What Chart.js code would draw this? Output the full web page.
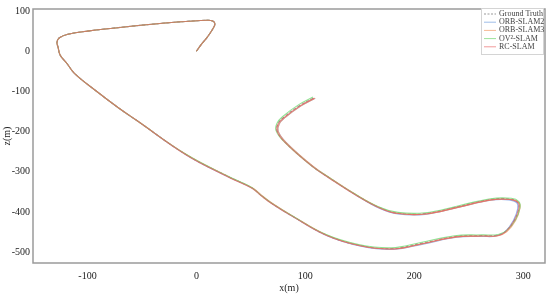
<!DOCTYPE html>
<html>
<head>
<meta charset="utf-8">
<script src="https://cdn.jsdelivr.net/npm/chart.js@4.4.1/dist/chart.umd.min.js"></script>
<style>
  html, body { margin: 0; padding: 0; background: #fff; }
</style>
</head>
<body>
<canvas id="trajChart" width="550" height="294"></canvas>
<script>
// shared first stretch of the trajectory (all methods overlap here)
const startPath = [[0,0],[4,15],[10,35],[15,55],[17,68],[15,75],[10,77],[-20,72],[-60,62],[-100,50],
    [-118,42],[-126,33],[-128,22],[-127,10],[-125,-10],[-119,-30],[-112,-55],[-92,-99],[-72,-140],[-55,-172]];

const groundTruth = [[-9,-258],[30,-313],[51,-340],[60,-360],[70,-380],[88,-410],[119,-457],[150,-483],[180,-491],[207,-478],
    [238,-461],[262,-459],[276,-458],[284,-448],[292,-420],[296,-390],[295,-376],[288,-368],[270,-369],[240,-387],
    [210,-404],[185,-403],[168,-389],[145,-355],[122,-315],[106,-285],[81,-225],[74,-198],[75,-180],[80,-165],[95,-135],[108,-116]];
const orbSlam2 = [[-8,-260],[31,-315],[52,-342],[61,-362],[71,-382],[89,-412],[120,-459],[151,-485],[181,-493],[208,-480],
    [239,-463],[262,-461],[275,-460],[283,-450],[291,-421],[295,-391],[294,-377],[287,-370],[270,-371],[240,-389],
    [210,-406],[185,-405],[168,-391],[146,-357],[123,-317],[107,-287],[82,-226],[75,-199],[76,-181],[81,-166],[96,-136],[109,-117]];
const orbSlam3 = [[-8,-259],[31,-314],[52,-341],[61,-361],[71,-381],[89,-411],[120,-458],[151,-484],[181,-492],[208,-479],
    [239,-462],[263,-460],[277,-459],[285,-449],[293,-421],[297,-391],[296,-377],[289,-369],[271,-370],[241,-388],
    [211,-405],[186,-404],[169,-390],[146,-356],[123,-316],[107,-286],[82,-226],[75,-199],[76,-181],[81,-166],[96,-136],[109,-117]];
const ov2Slam = [[-10,-256],[29,-311],[50,-338],[59,-358],[69,-378],[87,-408],[118,-455],[149,-481],[179,-489],[206,-476],
    [237,-459],[262,-457],[277,-456],[285,-446],[293,-419],[297,-389],[296,-374],[289,-366],[270,-367],[240,-385],
    [210,-402],[185,-401],[167,-387],[144,-353],[121,-313],[105,-284],[80,-224],[73,-197],[74,-179],[79,-163],[94,-133],[107,-114]];
const rcSlam = [[-9,-259],[30,-314],[51,-341],[60,-361],[70,-381],[88,-411],[119,-458],[150,-484],[180,-492],[207,-479],
    [238,-462],[262,-460],[276,-459],[284,-449],[292,-420],[296,-390],[295,-376],[288,-369],[270,-370],[240,-388],
    [210,-405],[185,-404],[168,-390],[145,-356],[122,-316],[106,-286],[81,-226],[74,-199],[75,-181],[80,-166],[95,-136],[108,-117]];

const seriesNames = ['Ground Truth', 'ORB-SLAM2', 'ORB-SLAM3', 'OV\u00B2-SLAM', 'RC-SLAM'];
const seriesData = [groundTruth, orbSlam2, orbSlam3, ov2Slam, rcSlam];
const seriesColors = ['rgba(120,120,120,0.8)', 'rgba(110,150,230,0.75)', 'rgba(240,150,100,0.8)', 'rgba(110,215,110,0.75)', 'rgba(230,95,95,0.7)'];
const legendColors = ['#999', '#9fbde8', '#f6b994', '#9be39b', '#f19a9a'];
const xTicks = [-100, 0, 100, 200, 300];
const zTicks = [-500, -400, -300, -200, -100, 0, 100];

const serif = "'Liberation Serif', 'Times New Roman', serif";

const toPoints = arr => startPath.concat(arr).map(p => ({x: p[0], y: p[1]}));

const datasets = seriesNames.map((name, i) => ({
    label: name,
    data: toPoints(seriesData[i]),
    showLine: true,
    borderColor: seriesColors[i],
    borderWidth: 1.1,
    borderDash: i === 0 ? [3, 2] : [],
    pointRadius: 0,
    tension: 0.4,
    order: seriesNames.length - i
}));

// frame round the plot + legend box in the upper right corner
const framePlugin = {
    id: 'frame',
    afterDatasetsDraw(chart) {
        const ctx = chart.ctx;
        const a = chart.chartArea;
        ctx.save();
        ctx.strokeStyle = '#9a9a9a';
        ctx.lineWidth = 1.5;
        ctx.strokeRect(a.left, a.top, a.right - a.left, a.bottom - a.top);

        const bx = 481, by = 8, bw = 62, bh = 46;
        ctx.fillStyle = '#fff';
        ctx.fillRect(bx, by, bw, bh);
        ctx.strokeStyle = '#d4d4d4';
        ctx.lineWidth = 1;
        ctx.strokeRect(bx + 0.5, by + 0.5, bw, bh);
        ctx.font = '8px ' + serif;
        ctx.textBaseline = 'middle';
        seriesNames.forEach((name, i) => {
            const y = by + 6 + i * 8.2;
            ctx.strokeStyle = legendColors[i];
            ctx.lineWidth = 1;
            ctx.setLineDash(i === 0 ? [2, 1.5] : []);
            ctx.beginPath();
            ctx.moveTo(bx + 3, y);
            ctx.lineTo(bx + 15, y);
            ctx.stroke();
            ctx.fillStyle = '#444';
            ctx.fillText(name, bx + 18, y);
        });
        ctx.restore();
    }
};

new Chart(document.getElementById('trajChart').getContext('2d'), {
    type: 'scatter',
    data: {datasets: datasets},
    options: {
        responsive: false,
        animation: false,
        devicePixelRatio: 1,
        layout: {padding: {top: 4, right: 5, left: 0, bottom: 0}},
        plugins: {legend: {display: false}, tooltip: {enabled: false}},
        scales: {
            x: {
                type: 'linear',
                min: -150,
                max: 320,
                afterBuildTicks: s => { s.ticks = xTicks.map(v => ({value: v})); },
                afterFit: s => { s.height = 31; },
                grid: {display: false, drawTicks: false},
                border: {display: false},
                ticks: {color: '#222', font: {family: serif, size: 10}, padding: 7, maxRotation: 0},
                title: {display: true, text: 'x(m)', color: '#222', font: {family: serif, size: 10}, padding: {top: 0, bottom: 0}}
            },
            y: {
                type: 'linear',
                min: -527,
                max: 105,
                afterBuildTicks: s => { s.ticks = zTicks.map(v => ({value: v})); },
                afterFit: s => { s.width = 33; },
                grid: {display: false, drawTicks: false},
                border: {display: false},
                ticks: {color: '#222', font: {family: serif, size: 10}, padding: 3},
                title: {display: true, text: 'z(m)', color: '#222', font: {family: serif, size: 10}, padding: {top: 1, bottom: 0}}
            }
        }
    },
    plugins: [framePlugin]
});
</script>
</body>
</html>
